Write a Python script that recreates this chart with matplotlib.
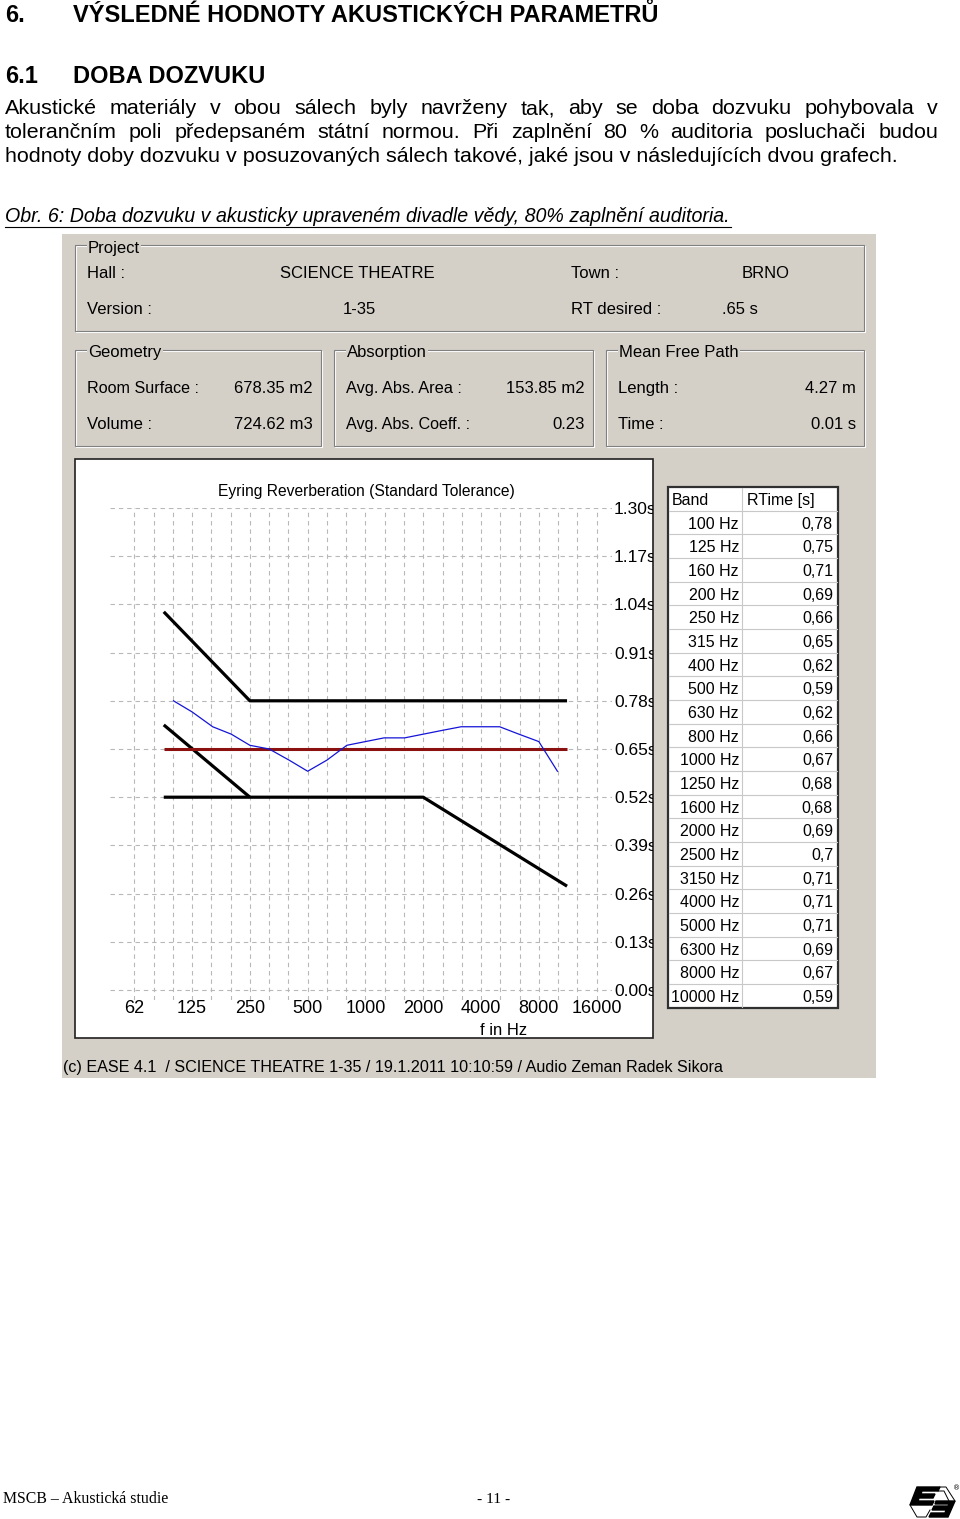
import numpy as np
import matplotlib
matplotlib.use("Agg")
import matplotlib.pyplot as plt
from matplotlib.patches import Rectangle, Polygon
from matplotlib.ticker import NullLocator

W, H = 960, 1519

# --- data ---
bands = [100, 125, 160, 200, 250, 315, 400, 500, 630, 800, 1000, 1250,
         1600, 2000, 2500, 3150, 4000, 5000, 6300, 8000, 10000]
rt = [0.78, 0.75, 0.71, 0.69, 0.66, 0.65, 0.62, 0.59, 0.62, 0.66, 0.67,
      0.68, 0.68, 0.69, 0.70, 0.71, 0.71, 0.71, 0.69, 0.67, 0.59]
rt_desired = 0.65
tol_span = [89, 11225]
tol_upper_f = [89, 250, 11225]
tol_upper_t = [1.02, 0.78, 0.78]
tol_lower_f = [89, 2000, 11225]
tol_lower_t = [0.52, 0.52, 0.28]
tol_diag_f = [89, 250]
tol_diag_t = [0.715, 0.52]
oct_ticks = [62.5, 125, 250, 500, 1000, 2000, 4000, 8000, 16000]
oct_labels = ["62", "125", "250", "500", "1000", "2000", "4000", "8000", "16000"]
rt_ticks = [0.00, 0.13, 0.26, 0.39, 0.52, 0.65, 0.78, 0.91, 1.04, 1.17, 1.30]
rt_tick_labels = ["%.2fs" % v for v in rt_ticks]

para = ["Akustické materiály v obou sálech byly navrženy tak, aby se doba dozvuku pohybovala v",
        "tolerančním poli předepsaném státní normou. Při zaplnění 80 % auditoria posluchači budou",
        "hodnoty doby dozvuku v posuzovaných sálech takové, jaké jsou v následujících dvou grafech."]

ARIAL = ["Liberation Sans", "DejaVu Sans"]
TIMES = ["Liberation Serif", "DejaVu Serif"]
GRAY = "#d4d0c8"
ES = 12  # size of the EASE dialog labels

fig = plt.figure(figsize=(W / 100, H / 100), dpi=100)
fig.patch.set_facecolor("white")
ov = fig.add_axes([0, 0, 1, 1])
ov.set_xlim(0, W)
ov.set_ylim(H, 0)
ov.axis("off")
r = fig.canvas.get_renderer()


def put(x, y, s, w=None, size=ES, ha="left", va="baseline", family=ARIAL, **kw):
    t = ov.text(x, y, s, fontsize=size, ha=ha, va=va, family=family, **kw)
    if w:
        bw = t.get_window_extent(r).width
        t.set_fontsize(size * w / bw)
    return t


def justify(line, x0, x1, y, size, **kw):
    words = line.split()
    ts = [ov.text(0, y, wd, fontsize=size, va="baseline", **kw) for wd in words]
    ws = [t.get_window_extent(r).width for t in ts]
    gap = (x1 - x0 - sum(ws)) / (len(ws) - 1)
    x = x0
    for t, w in zip(ts, ws):
        t.set_x(x)
        x += w + gap


# --- document text ---
h = put(73, 21.7, "VÝSLEDNÉ HODNOTY AKUSTICKÝCH PARAMETRŮ", w=586, size=14, weight="bold")
hs = h.get_fontsize()
put(5, 21.7, "6.", size=hs, weight="bold")
put(5, 83.3, "6.1", size=hs, weight="bold")
put(73, 83.3, "DOBA DOZVUKU", size=hs, weight="bold")

t3 = put(5, 162, para[2], w=895, size=12)
ps = t3.get_fontsize()
justify(para[0], 5, 938, 114.3, ps, family=ARIAL)
justify(para[1], 5, 938, 138, ps, family=ARIAL)

put(5, 222.5, "Obr. 6: Doba dozvuku v akusticky upraveném divadle vědy, 80% zaplnění auditoria.",
    w=726, size=12, style="italic")
ov.plot([5, 731], [226.5, 226.5], color="black", lw=0.8)

# footer
put(3, 1503, "MSCB – Akustická studie", w=165, size=11, family=TIMES)
put(477, 1503, "- 11 -", w=33, size=11, family=TIMES)
ov.add_patch(Polygon([(917, 1487), (940, 1487), (938, 1491), (922, 1491), (921, 1494),
                      (935, 1494), (933, 1498), (919, 1498), (918, 1501), (934, 1501),
                      (932, 1505), (910, 1505)], closed=True, color="black"))
ov.add_patch(Polygon([(936, 1501), (955, 1501), (948, 1517), (929, 1517), (931, 1513),
                      (945, 1513), (946, 1510), (932, 1510), (934, 1506), (948, 1506),
                      (949, 1504), (935, 1504)], closed=True, color="black"))
ov.plot([940, 946, 955], [1487, 1487, 1501], color="black", lw=0.7)
ov.plot([910, 917, 926, 930], [1505, 1517, 1517, 1510], color="black", lw=0.7)
ov.plot([938, 944, 949], [1491, 1491, 1501], color="black", lw=0.7)
ov.text(957, 1488, "®", fontsize=5, ha="center", va="center")

# --- EASE window ---
ov.add_patch(Rectangle((62, 234), 814, 844, facecolor=GRAY, edgecolor="none"))


def group(x0, y0, x1, y1, label, lx, ly):
    ov.add_patch(Rectangle((x0 + 1, y0 + 1), x1 - x0, y1 - y0, fill=False,
                           edgecolor="white", lw=0.8))
    ov.add_patch(Rectangle((x0, y0), x1 - x0, y1 - y0, fill=False,
                           edgecolor="#808080", lw=0.8))
    t = put(lx, ly, label)
    t.set_bbox(dict(facecolor=GRAY, edgecolor="none", pad=1))
    return t


group(75, 245, 864, 331, "Project", 88, 253)
group(75, 350, 321, 446, "Geometry", 88, 357)
group(334, 350, 593, 446, "Absorption", 347, 357)
group(606, 350, 864, 446, "Mean Free Path", 619, 357)

put(87, 278, "Hall :")
put(357.5, 278, "SCIENCE THEATRE", ha="center")
put(571, 278, "Town :")
put(765.5, 278, "BRNO", ha="center")
put(87, 314, "Version :")
put(359, 314, "1-35", ha="center")
put(571, 314, "RT desired :")
put(722, 314, ".65 s")

put(87, 393, "Room Surface :", w=112)
put(313, 393, "678.35 m2", ha="right")
put(87, 429, "Volume :")
put(313, 429, "724.62 m3", ha="right")
put(346, 393, "Avg. Abs. Area :", w=116)
put(585, 393, "153.85 m2", ha="right")
put(346, 429, "Avg. Abs. Coeff. :", w=124)
put(585, 429, "0.23", ha="right")
put(618, 393, "Length :")
put(856, 393, "4.27 m", ha="right")
put(618, 429, "Time :")
put(856, 429, "0.01 s", ha="right")

# plot frame
frame = Rectangle((75, 459), 578, 579, facecolor="white", edgecolor="#202020", lw=1.2)
ov.add_patch(frame)
put(366, 496, "Eyring Reverberation (Standard Tolerance)", w=298, ha="center")
put(504, 1035, "f in Hz", ha="center")

# table
row_h = 23.67
ov.add_patch(Rectangle((668, 487), 170, row_h * 22, facecolor="white",
                       edgecolor="#303030", lw=1.6, zorder=2))
for i in range(1, 22):
    ov.plot([669, 837], [487 + i * row_h] * 2, color="#c8c8c8", lw=0.8, zorder=3)
ov.plot([742, 742], [488, 487 + 22 * row_h - 1], color="#c8c8c8", lw=0.8, zorder=3)
put(672, 487 + 0.5 * row_h + 6, "Band", size=11.5, zorder=4)
put(747, 487 + 0.5 * row_h + 6, "RTime [s]", size=11.5, zorder=4)
for i, (b, v) in enumerate(zip(bands, rt)):
    y = 487 + (i + 1.5) * row_h + 6
    put(739, y, "%d Hz" % b, size=11.5, ha="right", zorder=4)
    put(833, y, ("%g" % v).replace(".", ","), size=11.5, ha="right", zorder=4)

put(63, 1071.7, "(c) EASE 4.1  / SCIENCE THEATRE 1-35 / 19.1.2011 10:10:59 / Audio Zeman Radek Sikora",
    w=657)

# --- chart ---
ax = fig.add_axes([110 / W, 1 - 1000 / H, (612 - 110) / W, (1000 - 508) / H])
ax.set_zorder(5)
ax.patch.set_alpha(0)
ax.set_xscale("log", base=2)
ax.set_xlim(46.7, 19245)
ax.set_ylim(-0.027, 1.30)
for s in ax.spines.values():
    s.set_visible(False)

grid_f = 62.5 * 2 ** (np.arange(25) / 3)
ax.vlines(grid_f, -0.027, 1.30, color="#b8b8b8", lw=0.8, linestyles=(0, (4, 3.5)))
ax.hlines(rt_ticks, 46.7, 19245, color="#b8b8b8", lw=0.8, linestyles=(0, (4, 3.5)))

ax.plot(tol_upper_f, tol_upper_t, color="black", lw=2.3, solid_capstyle="butt")
ax.plot(tol_lower_f, tol_lower_t, color="black", lw=2.3, solid_capstyle="butt")
ax.plot(tol_diag_f, tol_diag_t, color="black", lw=2.3, solid_capstyle="butt")
ax.plot(tol_span, [rt_desired, rt_desired], color="#8b1010", lw=2.2, solid_capstyle="butt")
ax.plot(bands, rt, color="#1414d8", lw=0.9)

ax.set_xticks(oct_ticks, oct_labels)
ax.xaxis.set_minor_locator(NullLocator())
ax.yaxis.tick_right()
ax.set_yticks(rt_ticks, rt_tick_labels)
ax.tick_params(axis="x", length=0, pad=0, labelsize=13)
ax.tick_params(axis="y", length=0, pad=1.4, labelsize=12.5)
for lab in ax.get_xticklabels() + ax.get_yticklabels():
    lab.set_family(ARIAL)
for lab in ax.get_yticklabels():
    lab.set_clip_path(frame)

fig.savefig("out.png", dpi=100)
